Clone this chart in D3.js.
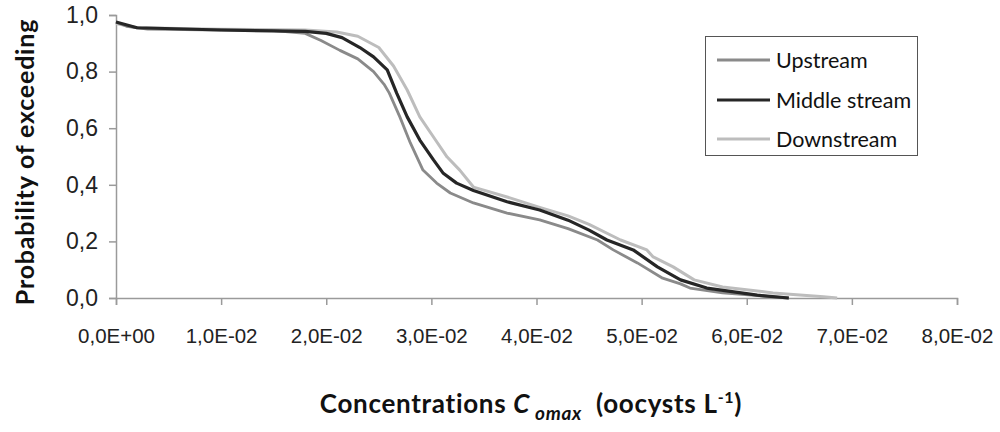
<!DOCTYPE html>
<html><head><meta charset="utf-8">
<script src="https://cdn.jsdelivr.net/npm/d3@7"></script>
<style>body{margin:0;background:#fff;} svg{display:block;font-family:Lato,"Open Sans",sans-serif;}</style>
</head><body>
<svg id="c" width="1000" height="432"></svg>
<script>
const seriesNames = ["Upstream", "Middle stream", "Downstream"];
const xTicks = [0,0.01,0.02,0.03,0.04,0.05,0.06,0.07,0.08];
const xTickLabels = ["0,0E+00","1,0E-02","2,0E-02","3,0E-02","4,0E-02","5,0E-02","6,0E-02","7,0E-02","8,0E-02"];
const yTicks = [0,0.2,0.4,0.6,0.8,1.0];
const yTickLabels = ["0,0","0,2","0,4","0,6","0,8","1,0"];

const upstreamX = [0,0.001,0.003,0.01,0.015,0.018,0.0195,0.0213,0.023,0.0245,0.0255,0.026,0.027,0.028,0.0292,0.0305,0.0318,0.034,0.0372,0.0403,0.043,0.0458,0.0473,0.0496,0.052,0.0537,0.0546,0.0577,0.0625,0.064];
const upstreamY = [0.975,0.96,0.95,0.947,0.945,0.935,0.91,0.875,0.845,0.80,0.755,0.724,0.64,0.548,0.452,0.406,0.371,0.336,0.30,0.276,0.245,0.205,0.17,0.124,0.07,0.05,0.035,0.018,0.004,0];

const middleX = [0,0.002,0.01,0.018,0.02,0.0215,0.0232,0.0245,0.0258,0.0267,0.0277,0.0289,0.0302,0.0311,0.0324,0.034,0.0372,0.0403,0.043,0.045,0.0467,0.0492,0.0515,0.0537,0.0562,0.061,0.064];
const middleY = [0.975,0.955,0.947,0.942,0.935,0.92,0.885,0.852,0.806,0.724,0.64,0.558,0.488,0.442,0.406,0.38,0.34,0.311,0.275,0.24,0.205,0.17,0.11,0.064,0.035,0.01,0];

const downX = [0,0.002,0.01,0.018,0.021,0.023,0.025,0.0264,0.0277,0.0289,0.0302,0.0315,0.0327,0.034,0.0372,0.0403,0.043,0.045,0.048,0.0505,0.0511,0.053,0.055,0.0577,0.0625,0.0673,0.0686];
const downY = [0.97,0.955,0.95,0.947,0.94,0.925,0.885,0.82,0.735,0.64,0.569,0.498,0.452,0.392,0.357,0.32,0.29,0.26,0.205,0.17,0.145,0.11,0.064,0.039,0.018,0.004,0];

const seriesX = [upstreamX, middleX, downX];
const seriesY = [upstreamY, middleY, downY];
const colors = ["#8a8a8a", "#262626", "#bdbdbd"];
const widths = [2.8, 3.2, 3];

const svg = d3.select("#c");
const x = d3.scaleLinear().domain([0,0.08]).range([116,957]);
const y = d3.scaleLinear().domain([0,1]).range([298,15]);

const axisColor = "#9a9a9a";
const xAxis = svg.append("g").attr("transform","translate(0,298)")
  .call(d3.axisBottom(x).tickValues(xTicks).tickSize(7).tickFormat((d,i)=>xTickLabels[i]));
xAxis.selectAll("text").attr("font-size",20.5).attr("fill","#222").attr("dy","1.72em");
const yAxis = svg.append("g").attr("transform","translate(116,0)")
  .call(d3.axisLeft(y).tickValues(yTicks).tickSize(7).tickFormat((d,i)=>yTickLabels[i]));
yAxis.selectAll("text").attr("font-size",23).attr("fill","#222").attr("x",-18);
[xAxis,yAxis].forEach(a=>{a.selectAll("path,line").attr("stroke",axisColor).attr("stroke-width",1.5);});

const line = d3.line().x(d=>x(d[0])).y(d=>y(d[1])).curve(d3.curveLinear);
[2,0,1].forEach(i=>{
  const pts = seriesX[i].map((v,k)=>[v,seriesY[i][k]]);
  svg.append("path").datum(pts).attr("d",line).attr("fill","none")
    .attr("stroke",colors[i]).attr("stroke-width",widths[i]).attr("stroke-linejoin","round");
});

// legend
const lg = svg.append("g");
lg.append("rect").attr("x",705.5).attr("y",36.5).attr("width",212).attr("height",119)
  .attr("fill","#fff").attr("stroke","#555").attr("stroke-width",1);
const ly = [60,100,139];
seriesNames.forEach((n,i)=>{
  lg.append("line").attr("x1",717).attr("x2",770).attr("y1",ly[i]).attr("y2",ly[i])
    .attr("stroke",colors[i]).attr("stroke-width",widths[i]);
  lg.append("text").attr("x",776).attr("y",ly[i]).attr("dy","0.36em")
    .attr("font-size",21.5).attr("fill","#111").text(n);
});

// axis titles
svg.append("text").attr("transform","translate(34,162) rotate(-90)")
  .attr("text-anchor","middle").attr("font-size",25).attr("font-weight","bold").attr("fill","#111")
  .attr("letter-spacing",0.8)
  .text("Probability of exceeding");
const xt = svg.append("text").attr("x",531).attr("y",413).attr("text-anchor","middle")
  .attr("font-size",26).attr("font-weight","bold").attr("fill","#111").attr("letter-spacing",0.7);
xt.append("tspan").text("Concentrations ");
xt.append("tspan").attr("font-style","italic").text("C");
xt.append("tspan").attr("font-style","italic").attr("font-size",19).attr("dy",7).text(" omax");
xt.append("tspan").attr("dy",-7).text("\u00a0 (oocysts L");
xt.append("tspan").attr("font-size",16).attr("dy",-10).text("-1");
xt.append("tspan").attr("dy",10).text(")");
</script>
</body></html>
